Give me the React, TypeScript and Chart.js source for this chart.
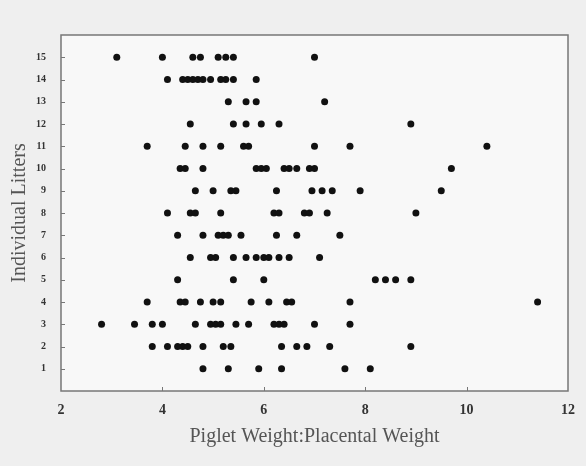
import React, { useEffect, useRef } from "react";
import { Chart, registerables } from "chart.js";

Chart.register(...registerables);

const litter15 = [3.1, 4.0, 4.6, 4.75, 5.1, 5.25, 5.4, 7.0];
const litter14 = [4.1, 4.4, 4.5, 4.6, 4.7, 4.8, 4.95, 5.15, 5.25, 5.4, 5.85];
const litter13 = [5.3, 5.65, 5.85, 7.2];
const litter12 = [4.55, 5.4, 5.65, 5.95, 6.3, 8.9];
const litter11 = [3.7, 4.45, 4.8, 5.15, 5.6, 5.7, 7.0, 7.7, 10.4];
const litter10 = [4.35, 4.45, 4.8, 5.85, 5.95, 6.05, 6.4, 6.5, 6.65, 6.9, 7.0, 9.7];
const litter9 = [4.65, 5.0, 5.35, 5.45, 6.25, 6.95, 7.15, 7.35, 7.9, 9.5];
const litter8 = [4.1, 4.55, 4.65, 5.15, 6.2, 6.3, 6.8, 6.9, 7.25, 9.0];
const litter7 = [4.3, 4.8, 5.1, 5.2, 5.3, 5.55, 6.25, 6.65, 7.5];
const litter6 = [4.55, 4.95, 5.05, 5.4, 5.65, 5.85, 6.0, 6.1, 6.3, 6.5, 7.1];
const litter5 = [4.3, 5.4, 6.0, 8.2, 8.4, 8.6, 8.9];
const litter4 = [3.7, 4.35, 4.45, 4.75, 5.0, 5.15, 5.75, 6.1, 6.45, 6.55, 7.7, 11.4];
const litter3 = [2.8, 3.45, 3.8, 4.0, 4.65, 4.95, 5.05, 5.15, 5.45, 5.7, 6.2, 6.3, 6.4, 7.0, 7.7];
const litter2 = [3.8, 4.1, 4.3, 4.4, 4.5, 4.8, 5.2, 5.35, 6.35, 6.65, 6.85, 7.3, 8.9];
const litter1 = [4.8, 5.3, 5.9, 6.35, 7.6, 8.1];

const litters = [litter1, litter2, litter3, litter4, litter5, litter6, litter7, litter8, litter9, litter10, litter11, litter12, litter13, litter14, litter15];

const xTicks = [2, 4, 6, 8, 10, 12];
const yTicks = [1, 2, 3, 4, 5, 6, 7, 8, 9, 10, 11, 12, 13, 14, 15];

const xTitle = "Piglet Weight:Placental Weight";
const yTitle = "Individual Litters";

export default function App() {
  const ref = useRef<HTMLCanvasElement | null>(null);

  useEffect(() => {
    const canvas = ref.current;
    if (!canvas) return;
    const points: { x: number; y: number }[] = [];
    litters.forEach((vals, i) => vals.forEach((v) => points.push({ x: v, y: i + 1 })));

    const framePlugin = {
      id: "frame",
      beforeDraw(chart: any) {
        const ctx = chart.ctx;
        ctx.save();
        ctx.fillStyle = "#efefef";
        ctx.fillRect(0, 0, chart.width, chart.height);
        const a = chart.chartArea;
        ctx.fillStyle = "#f8f8f8";
        ctx.fillRect(a.left, a.top, a.right - a.left, a.bottom - a.top);
        ctx.restore();
      },
      afterDatasetsDraw(chart: any) {
        const ctx = chart.ctx;
        const a = chart.chartArea;
        const xs = chart.scales.x;
        const ys = chart.scales.y;
        ctx.save();
        ctx.strokeStyle = "#777";
        ctx.lineWidth = 1.5;
        ctx.strokeRect(a.left, a.top, a.right - a.left, a.bottom - a.top);
        ctx.lineWidth = 1;
        ctx.beginPath();
        yTicks.forEach((t) => {
          const py = Math.round(ys.getPixelForValue(t)) + 0.5;
          ctx.moveTo(a.left, py);
          ctx.lineTo(a.left + 4, py);
        });
        xTicks.slice(1, -1).forEach((t) => {
          const px = Math.round(xs.getPixelForValue(t)) + 0.5;
          ctx.moveTo(px, a.bottom);
          ctx.lineTo(px, a.bottom - 4);
        });
        ctx.stroke();
        ctx.restore();
      },
    };

    const chart = new Chart(canvas, {
      type: "scatter",
      data: {
        datasets: [
          {
            data: points,
            backgroundColor: "#111",
            borderColor: "#111",
            pointRadius: 3.5,
            pointHoverRadius: 3.5,
            borderWidth: 0,
          },
        ],
      },
      options: {
        responsive: false,
        animation: false,
        layout: { padding: { left: 0, top: 35, right: 18, bottom: 17 } },
        plugins: { legend: { display: false }, tooltip: { enabled: false } },
        scales: {
          x: {
            type: "linear",
            min: 2,
            max: 12,
            afterFit(s: any) {
              s.height = 58;
            },
            afterBuildTicks(s: any) {
              s.ticks = xTicks.map((v) => ({ value: v }));
            },
            grid: { display: false, drawTicks: false },
            border: { display: false },
            ticks: {
              padding: 11,
              color: "#333",
              font: { family: "Liberation Serif", size: 14, weight: "bold" },
              maxRotation: 0,
            },
            title: {
              display: true,
              text: xTitle,
              color: "#555",
              padding: { top: 0, bottom: 0 },
              font: { family: "Liberation Serif", size: 20 },
            },
          },
          y: {
            type: "linear",
            min: 0,
            max: 16,
            afterFit(s: any) {
              s.width = 61;
            },
            afterBuildTicks(s: any) {
              s.ticks = yTicks.map((v) => ({ value: v }));
            },
            grid: { display: false, drawTicks: false },
            border: { display: false },
            ticks: {
              padding: 15,
              color: "#333",
              font: { family: "Liberation Serif", size: 10, weight: "bold" },
            },
            title: {
              display: true,
              text: yTitle,
              color: "#555",
              padding: { top: 8, bottom: 8 },
              font: { family: "Liberation Serif", size: 20 },
            },
          },
        },
      },
      plugins: [framePlugin],
    });
    return () => chart.destroy();
  }, []);

  return (
    <div style={{ position: "absolute", left: 0, top: 0, width: 586, height: 466 }}>
      <canvas ref={ref} width={586} height={466} style={{ display: "block" }} />
    </div>
  );
}
